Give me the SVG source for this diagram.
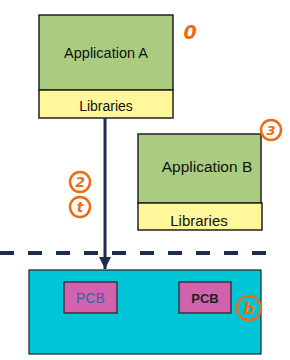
<svg xmlns="http://www.w3.org/2000/svg" width="290" height="360" viewBox="0 0 290 360">
<defs>
<style>
.app{fill:#aacc81;stroke:#222;stroke-width:1.5}
.lib{fill:#fff799;stroke:#222;stroke-width:1.5}
.t{font-family:"Liberation Sans",Arial,sans-serif;font-size:14px;fill:#111;text-anchor:middle}
.pcb{fill:#d262ad;stroke:#222;stroke-width:1.2}
.ann{fill:none;stroke:#f26a10;stroke-width:2.5}
.annt{font-family:"DejaVu Sans",sans-serif;font-style:italic;font-weight:bold;fill:#f26a10;text-anchor:middle}
</style>
<marker id="ah" markerWidth="12" markerHeight="12" refX="10" refY="5" orient="auto" markerUnits="userSpaceOnUse" viewBox="0 0 10 10">
<path d="M0,0 L10,5 L0,10 Z" fill="#1c2e4e"/>
</marker>
</defs>
<rect width="290" height="360" fill="#fff"/>
<g id="appA">
<rect class="app" x="39" y="15" width="134" height="75"/>
<text class="t" x="106" y="58" style="font-size:14.5px">Application A</text>
</g>
<g id="libA">
<rect class="lib" x="39" y="90" width="134" height="28"/>
<text class="t" x="106" y="111">Libraries</text>
</g>
<g id="appB">
<rect class="app" x="138" y="134" width="123" height="69"/>
<text class="t" x="207" y="172" style="font-size:15.5px">Application B</text>
</g>
<g id="libB">
<rect class="lib" x="138" y="203" width="124" height="27"/>
<text class="t" x="199" y="226" style="font-size:15px">Libraries</text>
</g>
<g id="platform">
<rect x="29" y="270" width="232" height="84" fill="#00c5d6" stroke="#222" stroke-width="1.2"/>
</g>
<g id="pcb1">
<rect class="pcb" x="64" y="282" width="53" height="31"/>
<text class="t" x="90.5" y="303" style="fill:#2a6aa8">PCB</text>
</g>
<g id="pcb2">
<rect class="pcb" x="179" y="282" width="52" height="31"/>
<text class="t" x="205" y="303" style="font-weight:bold;fill:#222;font-size:13px">PCB</text>
</g>
<g id="connectors">
<line x1="0" y1="253" x2="270" y2="253" stroke="#1c2e4e" stroke-width="4" stroke-dasharray="14 14"/>
<line x1="105" y1="118" x2="105" y2="269" stroke="#1c2e4e" stroke-width="3" marker-end="url(#ah)"/>
</g>
<g id="annotations">
<text class="annt" x="190" y="39" font-size="19">0</text>
<circle class="ann" cx="271" cy="130" r="10"/>
<text class="annt" x="271" y="135" font-size="13">3</text>
<circle class="ann" cx="80" cy="182" r="10"/>
<text class="annt" x="80" y="187" font-size="14">2</text>
<circle class="ann" cx="80" cy="207" r="10"/>
<text class="annt" x="80" y="212" font-size="14">t</text>
<circle class="ann" cx="249" cy="308" r="12"/>
<text class="annt" x="249" y="314" font-size="16">b</text>
</g>
</svg>
